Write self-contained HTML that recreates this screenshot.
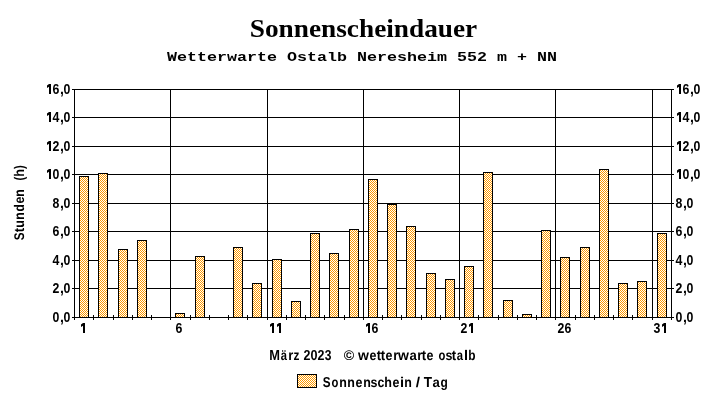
<!DOCTYPE html>
<html><head><meta charset="utf-8"><style>
html,body{margin:0;padding:0;background:#fff;width:727px;height:404px;overflow:hidden}
svg{will-change:transform;position:absolute;left:0;top:0;display:block}
.ax{font-family:"Liberation Sans",sans-serif;font-weight:bold;font-size:14px;letter-spacing:0px;fill:#000}
.gp{text-rendering:geometricPrecision}
.t{font-family:"Liberation Serif",serif;font-weight:bold;font-size:27.3px;fill:#000}
.st{font-family:"Liberation Mono",monospace;font-weight:bold;font-size:16.67px;letter-spacing:0px;fill:#000}
</style></head><body>
<svg width="727" height="404" viewBox="0 0 727 404">
<defs><pattern id="ck" patternUnits="userSpaceOnUse" x="0" y="0" width="2" height="2">
<rect x="0" y="0" width="2" height="2" fill="#fff"/><rect x="0" y="0" width="1" height="1" fill="#f90"/><rect x="1" y="1" width="1" height="1" fill="#f90"/></pattern></defs>
<rect width="727" height="404" fill="#fff"/>
<text transform="translate(363.5 37) scale(1 0.95)" x="0" y="0" text-anchor="middle" class="t">Sonnenscheindauer</text>
<text transform="translate(167 61) scale(1 0.82)" x="0" y="0" class="st">Wetterwarte Ostalb Neresheim 552 m + NN</text>
<g shape-rendering="crispEdges" fill="#000">
<rect x="72" y="317" width="602" height="1"/>
<rect x="72" y="288" width="602" height="1"/>
<rect x="72" y="260" width="602" height="1"/>
<rect x="72" y="231" width="602" height="1"/>
<rect x="72" y="203" width="602" height="1"/>
<rect x="72" y="174" width="602" height="1"/>
<rect x="72" y="146" width="602" height="1"/>
<rect x="72" y="117" width="602" height="1"/>
<rect x="72" y="89" width="602" height="1"/>
<rect x="74" y="89" width="1" height="231"/>
<rect x="93" y="315" width="1" height="5"/>
<rect x="113" y="315" width="1" height="5"/>
<rect x="132" y="315" width="1" height="5"/>
<rect x="151" y="315" width="1" height="5"/>
<rect x="170" y="89" width="1" height="231"/>
<rect x="190" y="315" width="1" height="5"/>
<rect x="209" y="315" width="1" height="5"/>
<rect x="228" y="315" width="1" height="5"/>
<rect x="247" y="315" width="1" height="5"/>
<rect x="267" y="89" width="1" height="231"/>
<rect x="286" y="315" width="1" height="5"/>
<rect x="305" y="315" width="1" height="5"/>
<rect x="324" y="315" width="1" height="5"/>
<rect x="344" y="315" width="1" height="5"/>
<rect x="363" y="89" width="1" height="231"/>
<rect x="382" y="315" width="1" height="5"/>
<rect x="401" y="315" width="1" height="5"/>
<rect x="421" y="315" width="1" height="5"/>
<rect x="440" y="315" width="1" height="5"/>
<rect x="459" y="89" width="1" height="231"/>
<rect x="478" y="315" width="1" height="5"/>
<rect x="498" y="315" width="1" height="5"/>
<rect x="517" y="315" width="1" height="5"/>
<rect x="536" y="315" width="1" height="5"/>
<rect x="555" y="89" width="1" height="231"/>
<rect x="575" y="315" width="1" height="5"/>
<rect x="594" y="315" width="1" height="5"/>
<rect x="613" y="315" width="1" height="5"/>
<rect x="632" y="315" width="1" height="5"/>
<rect x="652" y="89" width="1" height="231"/>
<rect x="671" y="89" width="1" height="231"/>
<rect x="79" y="176" width="10" height="142"/>
<rect x="80" y="177" width="8" height="140" fill="url(#ck)"/>
<rect x="98" y="173" width="10" height="145"/>
<rect x="99" y="174" width="8" height="143" fill="url(#ck)"/>
<rect x="118" y="249" width="10" height="69"/>
<rect x="119" y="250" width="8" height="67" fill="url(#ck)"/>
<rect x="137" y="240" width="10" height="78"/>
<rect x="138" y="241" width="8" height="76" fill="url(#ck)"/>
<rect x="175" y="313" width="10" height="5"/>
<rect x="176" y="314" width="8" height="3" fill="url(#ck)"/>
<rect x="195" y="256" width="10" height="62"/>
<rect x="196" y="257" width="8" height="60" fill="url(#ck)"/>
<rect x="233" y="247" width="10" height="71"/>
<rect x="234" y="248" width="8" height="69" fill="url(#ck)"/>
<rect x="252" y="283" width="10" height="35"/>
<rect x="253" y="284" width="8" height="33" fill="url(#ck)"/>
<rect x="272" y="259" width="10" height="59"/>
<rect x="273" y="260" width="8" height="57" fill="url(#ck)"/>
<rect x="291" y="301" width="10" height="17"/>
<rect x="292" y="302" width="8" height="15" fill="url(#ck)"/>
<rect x="310" y="233" width="10" height="85"/>
<rect x="311" y="234" width="8" height="83" fill="url(#ck)"/>
<rect x="329" y="253" width="10" height="65"/>
<rect x="330" y="254" width="8" height="63" fill="url(#ck)"/>
<rect x="349" y="229" width="10" height="89"/>
<rect x="350" y="230" width="8" height="87" fill="url(#ck)"/>
<rect x="368" y="179" width="10" height="139"/>
<rect x="369" y="180" width="8" height="137" fill="url(#ck)"/>
<rect x="387" y="204" width="10" height="114"/>
<rect x="388" y="205" width="8" height="112" fill="url(#ck)"/>
<rect x="406" y="226" width="10" height="92"/>
<rect x="407" y="227" width="8" height="90" fill="url(#ck)"/>
<rect x="426" y="273" width="10" height="45"/>
<rect x="427" y="274" width="8" height="43" fill="url(#ck)"/>
<rect x="445" y="279" width="10" height="39"/>
<rect x="446" y="280" width="8" height="37" fill="url(#ck)"/>
<rect x="464" y="266" width="10" height="52"/>
<rect x="465" y="267" width="8" height="50" fill="url(#ck)"/>
<rect x="483" y="172" width="10" height="146"/>
<rect x="484" y="173" width="8" height="144" fill="url(#ck)"/>
<rect x="503" y="300" width="10" height="18"/>
<rect x="504" y="301" width="8" height="16" fill="url(#ck)"/>
<rect x="522" y="314" width="10" height="4"/>
<rect x="523" y="315" width="8" height="2" fill="url(#ck)"/>
<rect x="541" y="230" width="10" height="88"/>
<rect x="542" y="231" width="8" height="86" fill="url(#ck)"/>
<rect x="560" y="257" width="10" height="61"/>
<rect x="561" y="258" width="8" height="59" fill="url(#ck)"/>
<rect x="580" y="247" width="10" height="71"/>
<rect x="581" y="248" width="8" height="69" fill="url(#ck)"/>
<rect x="599" y="169" width="10" height="149"/>
<rect x="600" y="170" width="8" height="147" fill="url(#ck)"/>
<rect x="618" y="283" width="10" height="35"/>
<rect x="619" y="284" width="8" height="33" fill="url(#ck)"/>
<rect x="637" y="281" width="10" height="37"/>
<rect x="638" y="282" width="8" height="35" fill="url(#ck)"/>
<rect x="657" y="233" width="10" height="85"/>
<rect x="658" y="234" width="8" height="83" fill="url(#ck)"/>
<rect x="297" y="374" width="20" height="14"/>
<rect x="298" y="375" width="18" height="12" fill="url(#ck)"/>
</g>
<text transform="translate(56 322) scale(0.88 1)" text-anchor="middle" class="ax">0</text><text x="60" y="322" class="ax">,</text><text transform="translate(67 322) scale(0.88 1)" text-anchor="middle" class="ax">0</text><text transform="translate(679 322) scale(0.88 1)" text-anchor="middle" class="ax">0</text><text x="683" y="322" class="ax">,</text><text transform="translate(690 322) scale(0.88 1)" text-anchor="middle" class="ax">0</text><text transform="translate(56 293) scale(0.88 1)" text-anchor="middle" class="ax">2</text><text x="60" y="293" class="ax">,</text><text transform="translate(67 293) scale(0.88 1)" text-anchor="middle" class="ax">0</text><text transform="translate(679 293) scale(0.88 1)" text-anchor="middle" class="ax">2</text><text x="683" y="293" class="ax">,</text><text transform="translate(690 293) scale(0.88 1)" text-anchor="middle" class="ax">0</text><text transform="translate(56 265) scale(0.88 1)" text-anchor="middle" class="ax">4</text><text x="60" y="265" class="ax">,</text><text transform="translate(67 265) scale(0.88 1)" text-anchor="middle" class="ax">0</text><text transform="translate(679 265) scale(0.88 1)" text-anchor="middle" class="ax">4</text><text x="683" y="265" class="ax">,</text><text transform="translate(690 265) scale(0.88 1)" text-anchor="middle" class="ax">0</text><text transform="translate(56 236) scale(0.88 1)" text-anchor="middle" class="ax">6</text><text x="60" y="236" class="ax">,</text><text transform="translate(67 236) scale(0.88 1)" text-anchor="middle" class="ax">0</text><text transform="translate(679 236) scale(0.88 1)" text-anchor="middle" class="ax">6</text><text x="683" y="236" class="ax">,</text><text transform="translate(690 236) scale(0.88 1)" text-anchor="middle" class="ax">0</text><text transform="translate(56 208) scale(0.88 1)" text-anchor="middle" class="ax">8</text><text x="60" y="208" class="ax">,</text><text transform="translate(67 208) scale(0.88 1)" text-anchor="middle" class="ax">0</text><text transform="translate(679 208) scale(0.88 1)" text-anchor="middle" class="ax">8</text><text x="683" y="208" class="ax">,</text><text transform="translate(690 208) scale(0.88 1)" text-anchor="middle" class="ax">0</text><text transform="translate(56 179) scale(0.88 1)" text-anchor="middle" class="ax">0</text><text x="60" y="179" class="ax">,</text><text transform="translate(67 179) scale(0.88 1)" text-anchor="middle" class="ax">0</text><text transform="translate(686 179) scale(0.88 1)" text-anchor="middle" class="ax">0</text><text x="690" y="179" class="ax">,</text><text transform="translate(697 179) scale(0.88 1)" text-anchor="middle" class="ax">0</text><text transform="translate(56 151) scale(0.88 1)" text-anchor="middle" class="ax">2</text><text x="60" y="151" class="ax">,</text><text transform="translate(67 151) scale(0.88 1)" text-anchor="middle" class="ax">0</text><text transform="translate(686 151) scale(0.88 1)" text-anchor="middle" class="ax">2</text><text x="690" y="151" class="ax">,</text><text transform="translate(697 151) scale(0.88 1)" text-anchor="middle" class="ax">0</text><text transform="translate(56 122) scale(0.88 1)" text-anchor="middle" class="ax">4</text><text x="60" y="122" class="ax">,</text><text transform="translate(67 122) scale(0.88 1)" text-anchor="middle" class="ax">0</text><text transform="translate(686 122) scale(0.88 1)" text-anchor="middle" class="ax">4</text><text x="690" y="122" class="ax">,</text><text transform="translate(697 122) scale(0.88 1)" text-anchor="middle" class="ax">0</text><text transform="translate(56 94) scale(0.88 1)" text-anchor="middle" class="ax">6</text><text x="60" y="94" class="ax">,</text><text transform="translate(67 94) scale(0.88 1)" text-anchor="middle" class="ax">0</text><text transform="translate(686 94) scale(0.88 1)" text-anchor="middle" class="ax">6</text><text x="690" y="94" class="ax">,</text><text transform="translate(697 94) scale(0.88 1)" text-anchor="middle" class="ax">0</text>
<text transform="translate(179 333) scale(0.88 1)" text-anchor="middle" class="ax">6</text><text transform="translate(375 333) scale(0.88 1)" text-anchor="middle" class="ax">6</text><text transform="translate(464 333) scale(0.88 1)" text-anchor="middle" class="ax">2</text><text transform="translate(561 333) scale(0.88 1)" text-anchor="middle" class="ax">2</text><text transform="translate(568 333) scale(0.88 1)" text-anchor="middle" class="ax">6</text><text transform="translate(657 333) scale(0.88 1)" text-anchor="middle" class="ax">3</text>
<g fill="#000"><path d="M49 169H51V179H49V171.7L47 172.9V170.5Z"/><path d="M679 169H681V179H679V171.7L677 172.9V170.5Z"/><path d="M49 141H51V151H49V143.7L47 144.9V142.5Z"/><path d="M679 141H681V151H679V143.7L677 144.9V142.5Z"/><path d="M49 112H51V122H49V114.7L47 115.9V113.5Z"/><path d="M679 112H681V122H679V114.7L677 115.9V113.5Z"/><path d="M49 84H51V94H49V86.7L47 87.9V85.5Z"/><path d="M679 84H681V94H679V86.7L677 87.9V85.5Z"/><path d="M83 323H85V333H83V325.7L81 326.9V324.5Z"/><path d="M272 323H274V333H272V325.7L270 326.9V324.5Z"/><path d="M279 323H281V333H279V325.7L277 326.9V324.5Z"/><path d="M368 323H370V333H368V325.7L366 326.9V324.5Z"/><path d="M471 323H473V333H471V325.7L469 326.9V324.5Z"/><path d="M664 323H666V333H664V325.7L662 326.9V324.5Z"/></g>
<text transform="translate(24 240) rotate(-90) translate(-0.34 0) scale(0.835 1.0)" class="ax gp" style="font-size:14px">S</text><text transform="translate(24 232) rotate(-90) translate(-0.16 0) scale(0.926 1.0)" class="ax gp" style="font-size:14px">t</text><text transform="translate(24 227) rotate(-90) translate(-0.77 0) scale(0.887 1.0)" class="ax gp" style="font-size:14px">u</text><text transform="translate(24 219) rotate(-90) translate(-0.82 0) scale(0.887 1.0)" class="ax gp" style="font-size:14px">n</text><text transform="translate(24 211) rotate(-90) translate(-0.49 0) scale(0.850 1.0)" class="ax gp" style="font-size:14px">d</text><text transform="translate(24 203) rotate(-90) translate(-0.49 0) scale(0.887 1.0)" class="ax gp" style="font-size:14px">e</text><text transform="translate(24 196) rotate(-90) translate(-0.82 0) scale(0.887 1.0)" class="ax gp" style="font-size:14px">n</text><text transform="translate(24 180) rotate(-90) translate(-0.56 0) scale(0.800 1.0)" class="ax gp" style="font-size:14px">(</text><text transform="translate(24 176) rotate(-90) translate(-0.87 0) scale(0.895 1.0)" class="ax gp" style="font-size:14px">h</text><text transform="translate(24 169) rotate(-90) translate(-0.01 0) scale(0.800 1.0)" class="ax gp" style="font-size:14px">)</text>
<text transform="translate(269.14 360) scale(0.919 1.03)" class="ax gp" style="font-size:14px">M</text><text transform="translate(280.71 360) scale(0.804 1.0)" class="ax gp" style="font-size:14px">ä</text><text transform="translate(288.14 360) scale(0.927 1.0)" class="ax gp" style="font-size:14px">r</text><text transform="translate(293.53 360) scale(0.843 1.0)" class="ax gp" style="font-size:14px">z</text><text transform="translate(303.57 360) scale(0.890 1.03)" class="ax gp" style="font-size:14px">2</text><text transform="translate(310.50 360) scale(0.901 1.03)" class="ax gp" style="font-size:14px">0</text><text transform="translate(317.57 360) scale(0.890 1.03)" class="ax gp" style="font-size:14px">2</text><text transform="translate(324.72 360) scale(0.862 1.03)" class="ax gp" style="font-size:14px">3</text>
<text transform="translate(343.78 360) scale(1.012 1.0)" class="ax gp" style="font-size:14px">©</text><text transform="translate(358.04 360) scale(1.004 1.0)" class="ax gp" style="font-size:14px">w</text><text transform="translate(369.51 360) scale(0.887 1.0)" class="ax gp" style="font-size:14px">e</text><text transform="translate(376.84 360) scale(0.926 1.0)" class="ax gp" style="font-size:14px">t</text><text transform="translate(380.84 360) scale(0.926 1.0)" class="ax gp" style="font-size:14px">t</text><text transform="translate(385.51 360) scale(0.887 1.0)" class="ax gp" style="font-size:14px">e</text><text transform="translate(393.14 360) scale(0.927 1.0)" class="ax gp" style="font-size:14px">r</text><text transform="translate(398.04 360) scale(1.004 1.0)" class="ax gp" style="font-size:14px">w</text><text transform="translate(409.62 360) scale(0.938 1.0)" class="ax gp" style="font-size:14px">a</text><text transform="translate(417.14 360) scale(0.927 1.0)" class="ax gp" style="font-size:14px">r</text><text transform="translate(421.84 360) scale(0.926 1.0)" class="ax gp" style="font-size:14px">t</text><text transform="translate(426.51 360) scale(0.887 1.0)" class="ax gp" style="font-size:14px">e</text><text transform="translate(438.56 360) scale(0.805 1.0)" class="ax gp" style="font-size:14px">o</text><text transform="translate(445.56 360) scale(0.893 1.0)" class="ax gp" style="font-size:14px">s</text><text transform="translate(451.84 360) scale(0.926 1.0)" class="ax gp" style="font-size:14px">t</text><text transform="translate(456.67 360) scale(0.804 1.0)" class="ax gp" style="font-size:14px">a</text><text transform="translate(463.98 360) scale(1.041 1.0)" class="ax gp" style="font-size:14px">l</text><text transform="translate(468.22 360) scale(0.850 1.0)" class="ax gp" style="font-size:14px">b</text>
<text transform="translate(322.66 387) scale(0.835 1.03)" class="ax gp" style="font-size:14px">S</text><text transform="translate(331.56 387) scale(0.805 1.0)" class="ax gp" style="font-size:14px">o</text><text transform="translate(339.18 387) scale(0.887 1.0)" class="ax gp" style="font-size:14px">n</text><text transform="translate(347.18 387) scale(0.887 1.0)" class="ax gp" style="font-size:14px">n</text><text transform="translate(355.51 387) scale(0.887 1.0)" class="ax gp" style="font-size:14px">e</text><text transform="translate(363.18 387) scale(0.887 1.0)" class="ax gp" style="font-size:14px">n</text><text transform="translate(370.56 387) scale(0.893 1.0)" class="ax gp" style="font-size:14px">s</text><text transform="translate(377.52 387) scale(0.879 1.0)" class="ax gp" style="font-size:14px">c</text><text transform="translate(384.13 387) scale(0.895 1.0)" class="ax gp" style="font-size:14px">h</text><text transform="translate(392.51 387) scale(0.887 1.0)" class="ax gp" style="font-size:14px">e</text><text transform="translate(399.98 387) scale(1.041 1.0)" class="ax gp" style="font-size:14px">i</text><text transform="translate(404.18 387) scale(0.887 1.0)" class="ax gp" style="font-size:14px">n</text><text transform="translate(415.85 387) scale(1.106 1.0)" class="ax gp" style="font-size:14px">/</text><text transform="translate(423.85 387) scale(0.970 1.03)" class="ax gp" style="font-size:14px">T</text><text transform="translate(432.62 387) scale(0.938 1.0)" class="ax gp" style="font-size:14px">a</text><text transform="translate(440.51 387) scale(0.852 1.0)" class="ax gp" style="font-size:14px">g</text>
</svg>
</body></html>
